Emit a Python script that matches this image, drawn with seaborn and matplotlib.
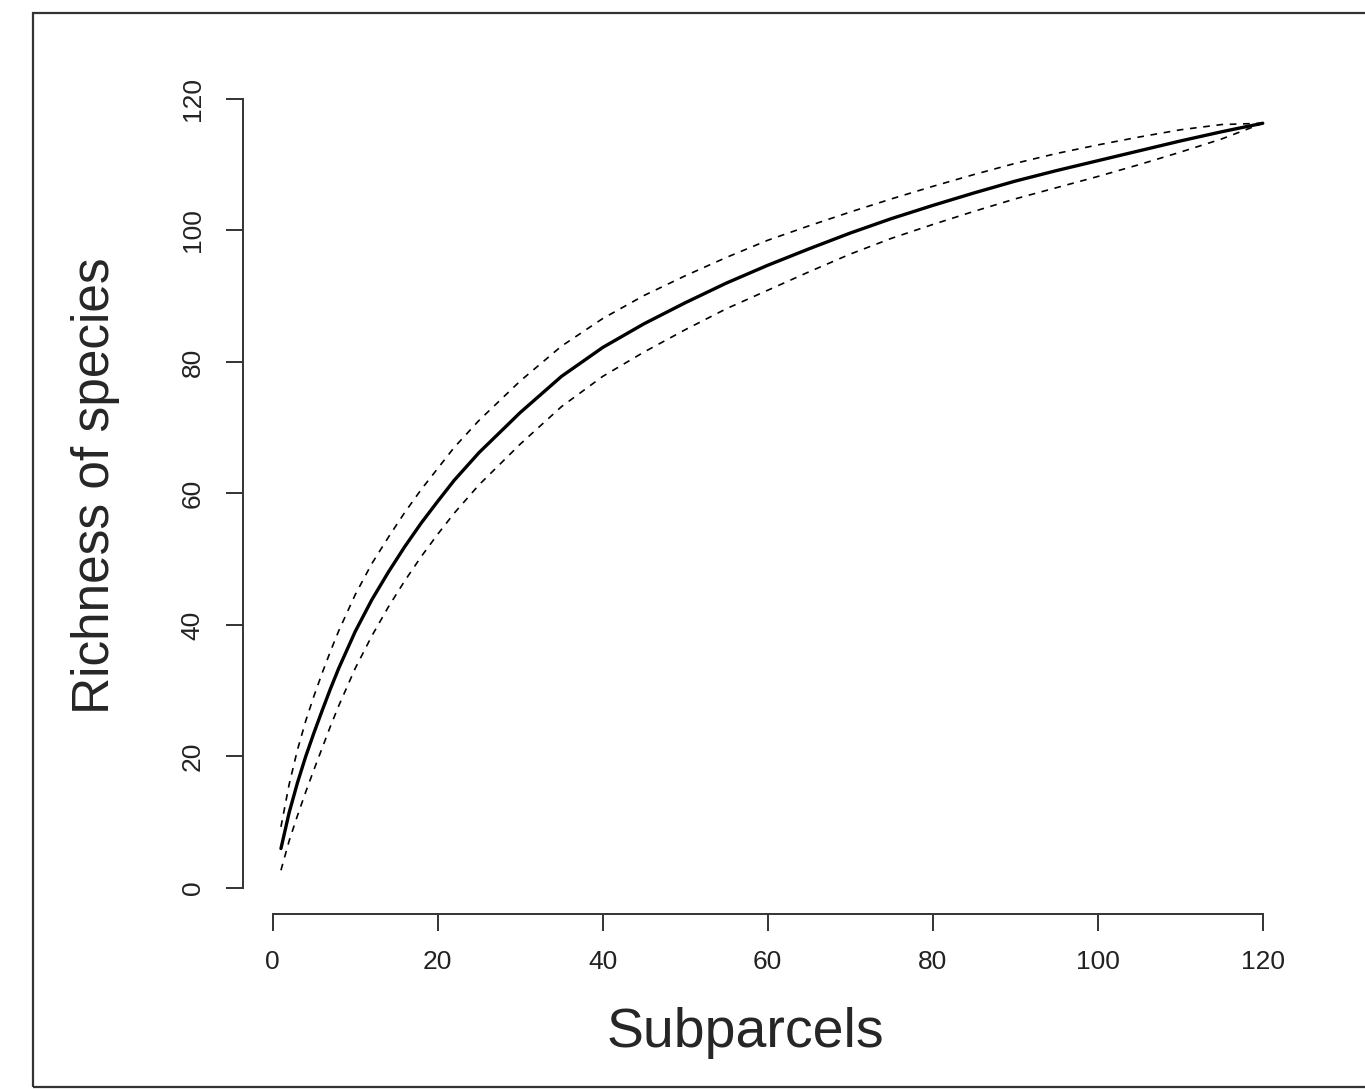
import matplotlib
matplotlib.use("Agg")
import matplotlib.pyplot as plt
import seaborn as sns
import pandas as pd
from matplotlib.patches import Rectangle

# ---- data ----
subparcels = [1, 2, 3, 4, 5, 6, 7, 8, 10, 12, 14, 16, 18, 20, 22, 25, 30, 35, 40,
              45, 50, 55, 60, 65, 70, 75, 80, 85, 90, 95, 100, 105, 110, 115, 120]
richness = [6.0, 11.5, 16.0, 20.0, 23.6, 27.0, 30.3, 33.4, 39.0, 43.8, 48.0, 51.9,
            55.5, 58.8, 62.0, 66.2, 72.3, 77.8, 82.2, 85.8, 89.0, 92.0, 94.7, 97.2,
            99.6, 101.8, 103.8, 105.7, 107.5, 109.1, 110.6, 112.1, 113.6, 115.0, 116.3]
upper = [9.3, 15.8, 21.0, 25.4, 29.2, 32.7, 36.0, 39.1, 44.6, 49.3, 53.3, 57.1,
         60.6, 63.8, 67.0, 71.1, 77.1, 82.4, 86.6, 90.1, 93.1, 95.9, 98.5, 100.7,
         102.8, 104.8, 106.7, 108.5, 110.2, 111.7, 113.0, 114.2, 115.3, 116.1, 116.3]
lower = [2.7, 7.2, 11.0, 14.6, 18.0, 21.3, 24.6, 27.7, 33.4, 38.3, 42.7, 46.7,
         50.4, 53.8, 57.0, 61.3, 67.5, 73.2, 77.8, 81.5, 84.9, 88.1, 90.9, 93.7,
         96.4, 98.8, 100.9, 102.9, 104.8, 106.5, 108.2, 110.0, 111.9, 113.9, 116.3]
x_ticks = [0, 20, 40, 60, 80, 100, 120]
y_ticks = [0, 20, 40, 60, 80, 100, 120]
x_label = "Subparcels"
y_label = "Richness of species"

df = pd.DataFrame({"Subparcels": subparcels, "richness": richness,
                   "upper": upper, "lower": lower})

sns.set_style("white")
plt.rcParams["font.family"] = ["Liberation Sans", "DejaVu Sans"]

W, H = 1365, 1089
fig = plt.figure(figsize=(W / 100, H / 100), dpi=100)
left_px, right_px = 243, 1302
top_px, bottom_px = 93, 914.3
ax = fig.add_axes([left_px / W, (H - bottom_px) / H,
                   (right_px - left_px) / W, (bottom_px - top_px) / H])

sns.lineplot(data=df, x="Subparcels", y="upper", ax=ax, color="black",
             linewidth=1.2, linestyle=(0, (4, 4)))
sns.lineplot(data=df, x="Subparcels", y="lower", ax=ax, color="black",
             linewidth=1.2, linestyle=(0, (4, 4)))
sns.lineplot(data=df, x="Subparcels", y="richness", ax=ax, color="black",
             linewidth=2.4)

ax.set_xlim(-3.6, 124.76)
ax.set_ylim(-4.0, 120.9)
ax.set_xticks(x_ticks)
ax.set_yticks(y_ticks)
ax.set_xticklabels([str(t) for t in x_ticks], fontsize=19, color="#222222")
ax.set_yticklabels([str(t) for t in y_ticks], fontsize=19, color="#222222",
                   rotation=90, va="center")

for side in ["top", "right"]:
    ax.spines[side].set_visible(False)
for side in ["left", "bottom"]:
    ax.spines[side].set_linewidth(1.4)
    ax.spines[side].set_color("#333333")
ax.spines["left"].set_bounds(0, 120)
ax.spines["bottom"].set_bounds(0, 120)

ax.tick_params(axis="both", direction="out", length=12.5, width=1.4,
               color="#333333", left=True, bottom=True)
ax.tick_params(axis="x", pad=13)
ax.tick_params(axis="y", pad=15)
ax.grid(False)

ax.set_xlabel(x_label, fontsize=40, va="center")
ax.set_ylabel(y_label, fontsize=37, va="center")
ax.xaxis.set_label_coords((745 - left_px) / (right_px - left_px),
                          ((H - 1033) - (H - bottom_px)) / (bottom_px - top_px))
ax.yaxis.set_label_coords((96 - left_px) / (right_px - left_px),
                          ((H - 486) - (H - bottom_px)) / (bottom_px - top_px))

# outer frame
fig.patches.append(Rectangle((33 / W, 2 / H), (W + 10 - 33) / W, (1087 - 13 - 0) / H,
                             transform=fig.transFigure, fill=False,
                             edgecolor="#333333", linewidth=1.6, clip_on=False))

fig.savefig("out.png", dpi=100, facecolor="white")
